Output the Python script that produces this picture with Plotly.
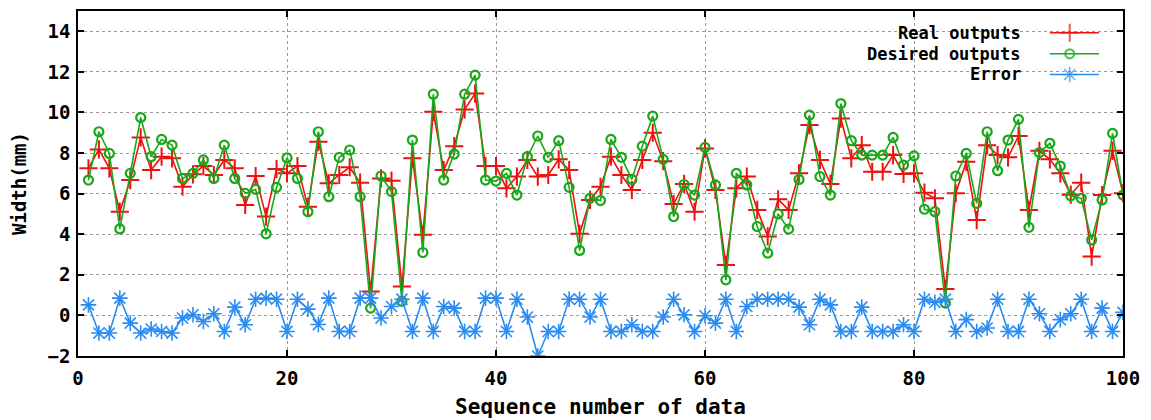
import plotly.graph_objects as go

seq = list(range(1, 101))

real_outputs = [7.25, 8.18, 7.25, 5.11, 6.67, 8.77, 7.16, 7.82, 7.74, 6.34,
                6.95, 7.36, 6.92, 7.66, 7.25, 5.44, 6.87, 4.87, 7.21, 7.0,
                7.36, 5.36, 8.56, 6.51, 6.92, 7.3, 6.54, 1.18, 6.75, 6.64,
                1.43, 7.74, 3.97, 10.03, 7.16, 8.34, 10.15, 10.93, 7.36, 7.36,
                6.26, 6.84, 7.66, 6.84, 6.92, 7.69, 7.16, 4.02, 5.69, 6.34,
                7.82, 6.92, 6.18, 7.66, 9.0, 7.6, 5.49, 6.48, 5.11, 8.23,
                6.18, 2.49, 6.26, 6.84, 5.2, 3.89, 5.72, 5.2, 7.0, 9.38,
                7.66, 6.48, 9.7, 7.74, 8.39, 7.08, 7.08, 7.9, 6.97, 7.0,
                6.05, 5.77, 1.3, 6.02, 7.57, 4.7, 8.39, 7.9, 7.79, 8.84,
                5.2, 8.11, 7.69, 7.0, 5.95, 6.54, 2.9, 5.93, 8.11, 6.02]

desired_outputs = [6.67, 9.05, 7.98, 4.26, 7.0, 9.75, 7.82, 8.67, 8.39, 6.75,
                   7.0, 7.66, 6.75, 8.39, 6.75, 6.02, 6.21, 4.02, 6.31, 7.76,
                   6.75, 5.11, 9.05, 5.85, 7.79, 8.15, 5.85, 0.36, 6.87, 6.1,
                   0.69, 8.64, 3.1, 10.9, 6.67, 7.95, 10.9, 11.84, 6.67, 6.62,
                   7.0, 5.93, 7.82, 8.84, 7.79, 8.61, 6.31, 3.2, 5.77, 5.66,
                   8.67, 7.79, 6.7, 8.34, 9.82, 7.69, 4.87, 6.45, 5.93, 8.28,
                   6.43, 1.75, 7.0, 6.43, 4.38, 3.07, 5.0, 4.25, 6.7, 9.87,
                   6.84, 5.93, 10.44, 8.61, 7.9, 7.9, 7.9, 8.77, 7.41, 7.86,
                   5.23, 5.11, 0.61, 6.87, 7.98, 5.52, 9.05, 7.13, 8.64, 9.66,
                   4.34, 8.02, 8.48, 7.36, 5.89, 5.77, 3.72, 5.69, 8.97, 5.93]

error = [0.52, -0.87, -0.87, 0.85, -0.38, -0.87, -0.67, -0.79, -0.87, -0.13,
         0.03, -0.3, 0.08, -0.79, 0.41, -0.46, 0.8, 0.85, 0.8, -0.79,
         0.8, 0.31, -0.45, 0.85, -0.79, -0.79, 0.85, 0.85, -0.13, 0.44,
         0.8, -0.79, 0.85, -0.79, 0.44, 0.36, -0.79, -0.79, 0.85, 0.85,
         -0.79, 0.8, -0.08, -2.0, -0.79, -0.79, 0.8, 0.8, -0.08, 0.8,
         -0.79, -0.79, -0.46, -0.79, -0.79, -0.08, 0.8, 0.03, -0.79, -0.02,
         -0.38, 0.8, -0.79, 0.44, 0.8, 0.8, 0.8, 0.8, 0.41, -0.46,
         0.8, 0.52, -0.79, -0.79, 0.41, -0.79, -0.79, -0.79, -0.46, -0.79,
         0.8, 0.64, 0.8, -0.79, -0.21, -0.79, -0.62, 0.8, -0.79, -0.79,
         0.8, 0.08, -0.79, -0.21, 0.08, 0.8, -0.79, 0.36, -0.79, 0.15]

series_names = ["Real outputs", "Desired outputs", "Error"]
x_ticks = [0, 20, 40, 60, 80, 100]
y_ticks = [-2, 0, 2, 4, 6, 8, 10, 12, 14]

RED = "#f01010"
GREEN = "#18a818"
BLUE = "#2a8cf0"
FONT = "DejaVu Sans Mono"

styles = [
    dict(color=RED, symbol="cross-thin-open", size=13, lw=2),
    dict(color=GREEN, symbol="circle-open", size=9, lw=2.2),
    dict(color=BLUE, symbol="asterisk-open", size=13, lw=1.6),
]

fig = go.Figure()
for name, ys, st in zip(series_names, [real_outputs, desired_outputs, error], styles):
    fig.add_trace(go.Scatter(
        x=seq, y=ys, mode="lines+markers", name=name,
        line=dict(color=st["color"], width=1.6),
        marker=dict(symbol=st["symbol"], size=st["size"], color=st["color"],
                    line=dict(color=st["color"], width=st["lw"])),
        showlegend=False,
    ))

# manual legend (text right-aligned, sample on the right) on a hidden overlay axis
legend_rows = [0.937, 0.876, 0.816]
for name, st, ry in zip(series_names, styles, legend_rows):
    fig.add_trace(go.Scatter(
        x=[0.930, 0.949, 0.977], y=[ry, ry, ry], mode="lines+markers",
        xaxis="x2", yaxis="y2", showlegend=False, hoverinfo="skip",
        line=dict(color=st["color"], width=1.6),
        marker=dict(symbol=st["symbol"], size=[0, st["size"], 0], color=st["color"],
                    line=dict(color=st["color"], width=st["lw"])),
    ))
    fig.add_annotation(x=0.904, y=ry, xref="paper", yref="paper", text=name,
                       showarrow=False, xanchor="right", yanchor="middle",
                       font=dict(family=FONT, size=17, color="black", weight="bold"))

axis_common = dict(
    showline=True, linecolor="black", linewidth=1.5, mirror="ticks",
    ticks="inside", ticklen=6, tickwidth=1.5, tickcolor="black",
    showgrid=True, gridcolor="#9a9a9a", griddash="dot", gridwidth=1,
    zeroline=False,
    tickfont=dict(family=FONT, size=19, color="black", weight="bold"),
)

fig.update_layout(
    width=1143, height=412,
    margin=dict(l=70, r=28, t=1, b=64),
    paper_bgcolor="white", plot_bgcolor="white",
    xaxis=dict(range=[0, 100], tickvals=x_ticks, ticklabelstandoff=4,
               title=dict(text="Sequence number of data", standoff=12,
                          font=dict(family=FONT, size=21, color="black", weight="bold")),
               **axis_common),
    yaxis=dict(range=[-2, 15], tickvals=y_ticks, ticklabelstandoff=2,
               title=dict(text="Width(mm)", standoff=17,
                          font=dict(family=FONT, size=19, color="black", weight="bold")),
               **axis_common),
    xaxis2=dict(range=[0, 1], overlaying="x", anchor="y2", visible=False),
    yaxis2=dict(range=[0, 1], overlaying="y", anchor="x2", visible=False),
)

fig.write_html("out.html")
